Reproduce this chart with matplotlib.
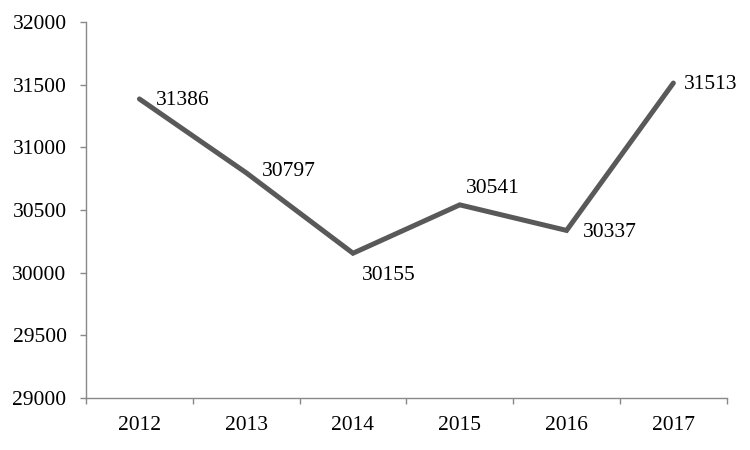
import matplotlib

matplotlib.use("Agg")

import matplotlib.pyplot as plt

years = ["2012", "2013", "2014", "2015", "2016", "2017"]
values = [31386, 30797, 30155, 30541, 30337, 31513]

# label offsets in pixels (dx, dy) per point
label_offsets = [(16, -2), (16, 1), (9, -22), (6, 16), (16, -2), (11, -1)]

plt.rcParams["font.family"] = ["Liberation Serif", "DejaVu Serif"]

fig = plt.figure(figsize=(7.5, 4.5), dpi=100)
ax = fig.add_axes([0.1147, 0.1156, 0.8543, 0.8355])

x = list(range(len(years)))
ax.plot(x, values, color="#595959", linewidth=3.6, solid_capstyle="round",
        solid_joinstyle="miter")

for xi, val, (dx, dy) in zip(x, values, label_offsets):
    ax.annotate(str(val), (xi, val), xytext=(dx * 0.72, dy * 0.72),
                textcoords="offset points", ha="left", va="center",
                fontsize=15.5, color="#000000")

ax.set_xlim(-0.5, len(years) - 0.5)
ax.set_ylim(29000, 32000)
ax.set_yticks(range(29000, 32001, 500))

ax.set_xticks(x)
ax.set_xticklabels(years)
ax.set_xticks([i - 0.5 for i in range(len(years) + 1)], minor=True)
ax.tick_params(axis="x", which="major", length=0, pad=13, labelsize=15.5)
ax.tick_params(axis="x", which="minor", length=4, color="#898989", width=1)
ax.tick_params(axis="y", length=4, color="#898989", width=1, pad=10,
               labelsize=15.5)

for side in ["top", "right"]:
    ax.spines[side].set_visible(False)
for side in ["left", "bottom"]:
    ax.spines[side].set_color("#898989")
    ax.spines[side].set_linewidth(1)

fig.savefig("out.png", dpi=100)
